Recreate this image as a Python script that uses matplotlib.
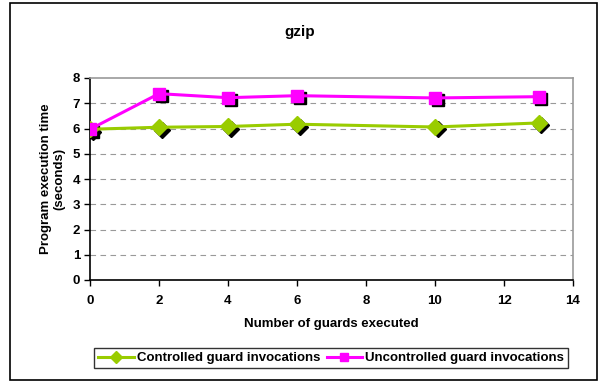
import matplotlib.pyplot as plt
import matplotlib.transforms as mtransforms
from matplotlib.patches import Rectangle

plt.rcParams['font.family'] = ['Liberation Sans', 'DejaVu Sans']
plt.rcParams['font.weight'] = 'bold'

# data
guards = [0, 2, 4, 6, 10, 13]
controlled = [5.97, 6.05, 6.08, 6.17, 6.06, 6.22]
uncontrolled = [5.97, 7.38, 7.22, 7.30, 7.21, 7.26]

fig = plt.figure(figsize=(6, 3.81), dpi=100)
ax = fig.add_axes([90/600, 1 - 280/381, (573-90)/600, (280-78)/381])

# figure border
fig.patches.append(Rectangle((10/600, 1/381), 587/600, 377/381, transform=fig.transFigure,
                             fill=False, edgecolor='black', linewidth=1.2))

shadow = mtransforms.offset_copy(ax.transData, fig=fig, x=2.5, y=-2.5, units='dots')

# shadows of markers
ax.plot(guards, controlled, linestyle='none', marker='D', markersize=8,
        color='black', transform=shadow, zorder=2)
ax.plot(guards, uncontrolled, linestyle='none', marker='s', markersize=9,
        color='black', transform=shadow, zorder=2)

ax.plot(guards, controlled, color='#99cc00', linewidth=2.2, marker='D', markersize=8,
        label='Controlled guard invocations', zorder=3)
ax.plot(guards, uncontrolled, color='#ff00ff', linewidth=2.2, marker='s', markersize=9,
        label='Uncontrolled guard invocations', zorder=4)

ax.set_xlim(0, 14)
ax.set_ylim(0, 8)
ax.set_xticks(range(0, 15, 2))
ax.set_yticks(range(0, 9))
ax.tick_params(labelsize=9.5, length=4, direction='out', width=1)
ax.tick_params(axis='x', pad=7)
ax.tick_params(axis='y', pad=3)
for lbl in ax.get_xticklabels() + ax.get_yticklabels():
    lbl.set_fontweight('bold')

for y in range(1, 8):
    ax.axhline(y, color='#999999', linestyle=(0, (5, 4)), linewidth=0.8, zorder=1)

ax.spines['left'].set_color('black')
ax.spines['bottom'].set_color('black')
ax.spines['left'].set_linewidth(1.2)
ax.spines['bottom'].set_linewidth(1.2)
ax.spines['top'].set_color('#999999')
ax.spines['right'].set_color('#999999')
ax.spines['top'].set_linewidth(1.2)
ax.spines['right'].set_linewidth(1.2)

ax.set_xlabel('Number of guards executed', fontsize=9.5, fontweight='bold', labelpad=8)
ax.set_ylabel('Program execution time\n(seconds)', fontsize=9.5, fontweight='bold', labelpad=5)
fig.text(0.5, 1 - 32/381, 'gzip', ha='center', va='center', fontsize=11, fontweight='bold')

leg = fig.legend(loc='center', bbox_to_anchor=(331/600, 1 - 358/381), ncol=2,
                 frameon=True, fancybox=False, edgecolor='black',
                 handlelength=2.7, handletextpad=0.2, columnspacing=0.5,
                 borderpad=0.3, borderaxespad=0, prop={'weight': 'bold', 'size': 9.5})
leg.get_frame().set_linewidth(1.0)
for h in leg.legend_handles:
    h.set_markersize(6)

fig.savefig('out.png', dpi=100)
